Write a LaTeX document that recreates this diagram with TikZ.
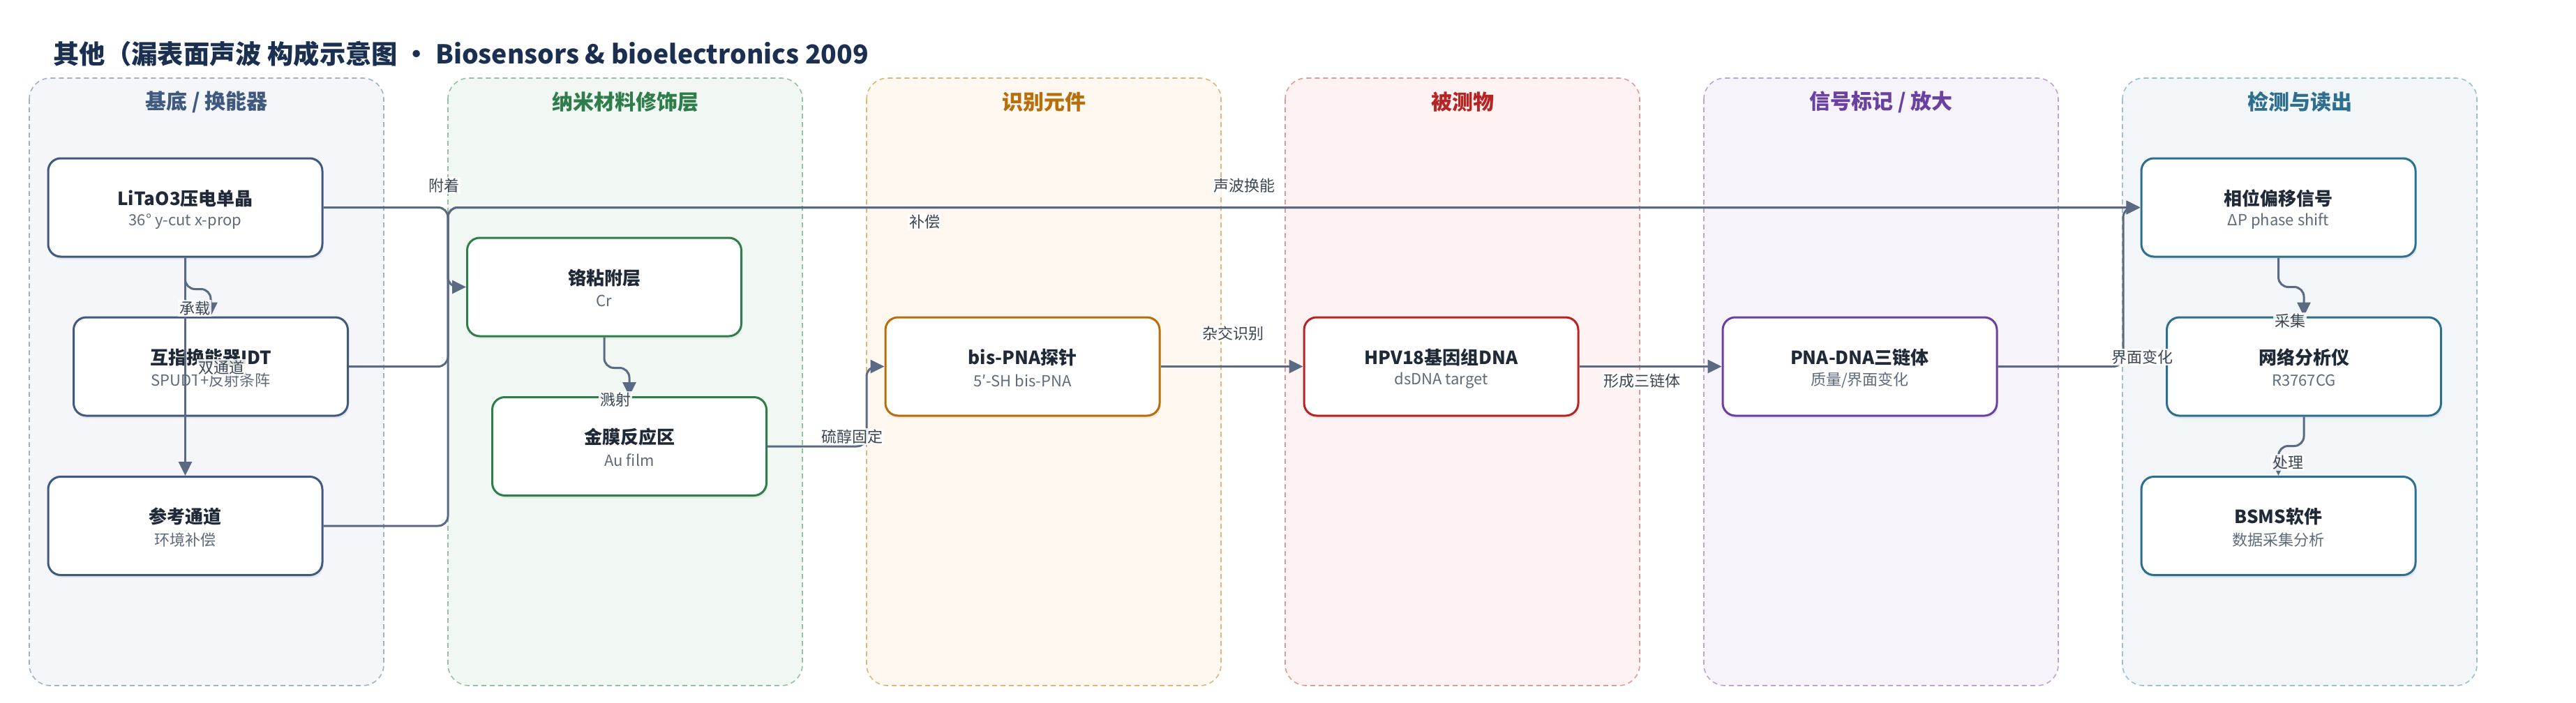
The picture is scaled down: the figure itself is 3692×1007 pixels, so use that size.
\documentclass[tikz,border=0pt]{standalone}
\usepackage{fontspec}
\setmainfont{Noto Sans CJK SC}
\usetikzlibrary{arrows.meta,shadows}

\definecolor{titlec}{HTML}{1B3050}
\definecolor{ink}{HTML}{1F2937}
\definecolor{subink}{HTML}{5F6B7A}
\definecolor{labink}{HTML}{3C4653}
\definecolor{edgec}{HTML}{5A6A82}
\definecolor{pf1}{HTML}{F4F6FA}\definecolor{pb1}{HTML}{A3B1C6}\definecolor{pc1}{HTML}{3F5A7E}
\definecolor{pf2}{HTML}{F1F8F3}\definecolor{pb2}{HTML}{93C2A2}\definecolor{pc2}{HTML}{2E7D4A}
\definecolor{pf3}{HTML}{FEF8F0}\definecolor{pb3}{HTML}{E2B577}\definecolor{pc3}{HTML}{B86E0A}
\definecolor{pf4}{HTML}{FEF3F2}\definecolor{pb4}{HTML}{E29A98}\definecolor{pc4}{HTML}{B82424}
\definecolor{pf5}{HTML}{F6F3FB}\definecolor{pb5}{HTML}{BBA3DA}\definecolor{pc5}{HTML}{6A40A0}
\definecolor{pf6}{HTML}{F2F6F8}\definecolor{pb6}{HTML}{9BC0CF}\definecolor{pc6}{HTML}{2E6E8E}

\begin{document}
\begin{tikzpicture}[x=1pt,y=-1pt,
  panel/.style={rounded corners=30pt, dash pattern=on 7pt off 5pt, line width=1.6pt},
  head/.style={font=\bfseries\fontsize{30}{34}\selectfont},
  box/.style={draw, fill=white, rounded corners=18pt, line width=3pt,
    minimum width=393pt, minimum height=141pt, inner sep=0pt,
    drop shadow={shadow xshift=1.5pt, shadow yshift=-4pt, opacity=0.13}},
  ttl/.style={font=\bfseries\fontsize{26}{30}\selectfont, text=ink, inner sep=0pt},
  sub/.style={font=\fontsize{22}{26}\selectfont, text=subink, inner sep=0pt},
  conn/.style={draw=edgec, line width=3pt, rounded corners=14pt,
    -{Triangle[length=20pt,width=19pt]}},
  elab/.style={font=\fontsize{22}{26}\selectfont, text=labink, fill=white,
    fill opacity=0.85, text opacity=1, inner sep=2pt},
]
\useasboundingbox (0,0) rectangle (3692,1007);

% title
\node[anchor=west, font=\bfseries\fontsize{37.3}{44}\selectfont, text=titlec] (title) at (73,77)
  {其他（漏表面声波 构成示意图 · Biosensors \& bioelectronics 2009};

% panels
\path[panel, draw=pb1, fill=pf1] (42,112) rectangle (550,983);
\path[panel, draw=pb2, fill=pf2] (642,112) rectangle (1150,983);
\path[panel, draw=pb3, fill=pf3] (1242,112) rectangle (1750,983);
\path[panel, draw=pb4, fill=pf4] (1842,112) rectangle (2350,983);
\path[panel, draw=pb5, fill=pf5] (2442,112) rectangle (2950,983);
\path[panel, draw=pb6, fill=pf6] (3042,112) rectangle (3550,983);

\node[head, text=pc1] (h1) at (296,146) {基底 / 换能器};
\node[head, text=pc2] (h2) at (896,146) {纳米材料修饰层};
\node[head, text=pc3] (h3) at (1496,146) {识别元件};
\node[head, text=pc4] (h4) at (2096,146) {被测物};
\node[head, text=pc5] (h5) at (2696,146) {信号标记 / 放大};
\node[head, text=pc6] (h6) at (3296,146) {检测与读出};

% boxes
\newcommand{\mybox}[6]{%
  \node[box, draw=#4] (#1) at (#2,#3) {};
  \node[ttl] (#1-t) at ([yshift=13pt]#1.center) {#5};
  \node[sub] (#1-s) at ([yshift=-20pt]#1.center) {#6};}

\mybox{lit}{265.5}{297.5}{pc1}{LiTaO3压电单晶}{36° y-cut x-prop}
\mybox{idt}{302}{525.5}{pc1}{互指换能器IDT}{SPUDT+反射条阵}
\mybox{ref}{265.5}{754}{pc1}{参考通道}{环境补偿}
\mybox{cr}{866}{411.5}{pc2}{铬粘附层}{Cr}
\mybox{au}{902}{640}{pc2}{金膜反应区}{Au film}
\mybox{pna}{1465.5}{525.5}{pc3}{bis-PNA探针}{5′-SH bis-PNA}
\mybox{hpv}{2065.5}{525.5}{pc4}{HPV18基因组DNA}{dsDNA target}
\mybox{tri}{2665.5}{525.5}{pc5}{PNA-DNA三链体}{质量/界面变化}
\mybox{ph}{3265.5}{297.5}{pc6}{相位偏移信号}{ΔP phase shift}
\mybox{na}{3302}{525.5}{pc6}{网络分析仪}{R3767CG}
\mybox{bs}{3265.5}{754}{pc6}{BSMS软件}{数据采集分析}

% bus coordinates
\coordinate (bus2) at (642,0);
\coordinate (bus3) at (1242,0);
\coordinate (bus6) at (3043,0);

% connectors
\draw[conn] (lit.south) -- ([yshift=-45pt]lit.south) -| (idt.north);
\draw[conn] (lit.south) -- (ref.north);
\draw[conn] (lit.east) -- (lit.east -| bus2) -- (cr.west -| bus2) -- (cr.west);
\draw[conn] (idt.east) -- (idt.east -| bus2) -- (ph.west -| bus2) -- (ph.west);
\draw[conn] (ref.east) -- (ref.east -| bus2) -- (ph.west -| bus2) -- (ph.west);
\draw[conn] (cr.south) -- ([yshift=-44pt]cr.south) -| (au.north);
\draw[conn] (au.east) -- (au.east -| bus3) -- (pna.west -| bus3) -- (pna.west);
\draw[conn] (pna.east) -- (hpv.west);
\draw[conn] (hpv.east) -- (tri.west);
\draw[conn] (tri.east) -- (tri.east -| bus6) -- (ph.west -| bus6) -- (ph.west);
\draw[conn] (ph.south) -- ([yshift=-42pt]ph.south) -| (na.north);
\draw[conn] (na.south) -- ([yshift=-42pt]na.south) -| (bs.north);

% connector labels
\node[elab] (l1) at (279,442) {承载};
\node[elab] (l2) at (317,527) {双通道};
\node[elab] (l3) at (636,266) {附着};
\node[elab] (l4) at (1783,266) {声波换能};
\node[elab] (l5) at (1325,318) {补偿};
\node[elab] (l6) at (882,573) {溅射};
\node[elab] (l7) at (1221,626) {硫醇固定};
\node[elab] (l8) at (1767,478) {杂交识别};
\node[elab] (l9) at (2353,546) {形成三链体};
\node[elab] (l10) at (3070,512) {界面变化};
\node[elab] (l11) at (3282,460) {采集};
\node[elab] (l12) at (3279,663) {处理};
\end{tikzpicture}
\end{document}
